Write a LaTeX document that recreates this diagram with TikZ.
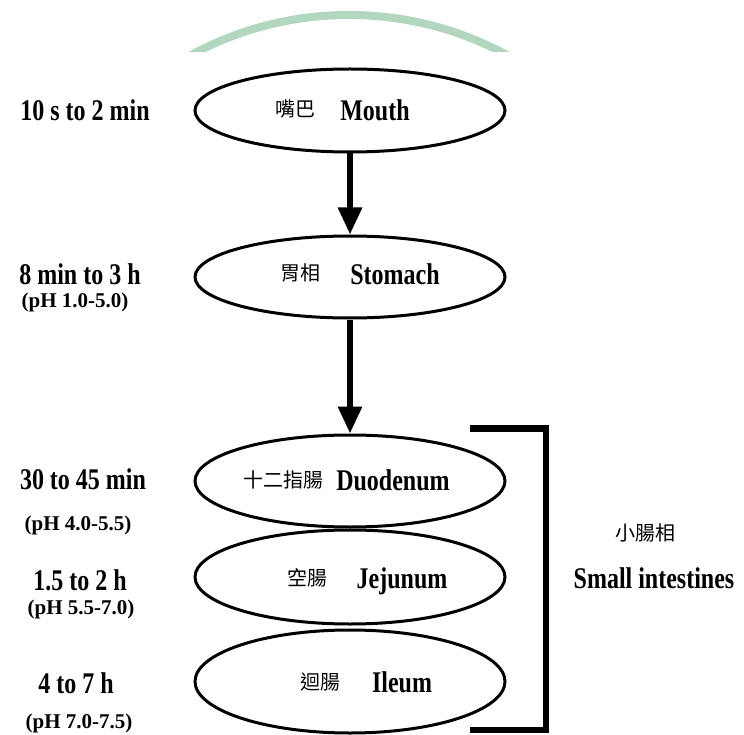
\documentclass[tikz,border=0pt]{standalone}
\usepackage{fontspec}
\setmainfont{Liberation Serif}
\newfontfamily\narrowserif{Liberation Serif}[FakeStretch=0.8]
\newfontfamily\cjk{Noto Sans CJK TC}
\usetikzlibrary{shapes.geometric, arrows.meta}

\definecolor{wmgreen}{RGB}{178,214,190}

\tikzset{
  stage/.style={ellipse, draw, line width=3pt, minimum width=310pt,
                minimum height=#1, inner sep=0pt},
  big/.style={font=\narrowserif\bfseries\fontsize{30}{32}\selectfont,
              inner sep=0pt, text height=20pt, text depth=0pt},
  ph/.style={font=\bfseries\fontsize{21}{23}\selectfont,
             inner sep=0pt, text height=14pt, text depth=0pt},
  zh/.style={font=\cjk\fontsize{20}{22}\selectfont,
             inner sep=0pt, text height=17pt, text depth=3pt},
  flow/.style={line width=6pt, -{Triangle[width=23pt, length=27pt]}},
  bracketline/.style={line width=6.5pt, line join=miter},
  seal/.style={draw=wmgreen, line width=8pt}
}

\begin{document}
\begin{tikzpicture}[x=1pt, y=-1pt]
  \fill[white] (0,0) rectangle (744,735);
  \useasboundingbox (0,0) rectangle (744,735);

  % faint seal arc along the top edge
  \begin{scope}
    \clip (0,0) rectangle (744,52);
    \draw[seal] (349,346) circle[radius=331pt];
  \end{scope}

  % stages of the digestive tract
  \node[stage=83pt]  (mouth)   at (350,110.5) {};
  \node[stage=82pt]  (stomach) at (350,277)   {};
  \node[stage=92pt]  (duo)     at (350,481)   {};
  \node[stage=94pt]  (jej)     at (350,577)   {};
  \node[stage=103pt] (ile)     at (350,681.5) {};

  % names inside the stages
  \node[zh]  (mouthzh) at (295,110) {嘴巴};
  \node[big] (mouthen) at (375,111) {Mouth};
  \node[zh]  (stomzh)  at (300,273) {胃相};
  \node[big] (stomen)  at (395,274) {Stomach};
  \node[zh]  (duozh)   at (283,480) {十二指腸};
  \node[big] (duoen)   at (393,480) {Duodenum};
  \node[zh]  (jejzh)   at (307,578) {空腸};
  \node[big] (jejen)   at (402,578) {Jejunum};
  \node[zh]  (ilezh)   at (320,682) {迴腸};
  \node[big] (ileen)   at (402,682) {Ileum};

  % transit times and pH ranges
  \node[big] (t1) at (85,111)  {10 s to 2 min};
  \node[big] (t2) at (80,275)  {8 min to 3 h};
  \node[ph]  (p2) at (75,301)  {(pH 1.0-5.0)};
  \node[big] (t3) at (83,479)  {30 to 45 min};
  \node[ph]  (p3) at (78,523)  {(pH 4.0-5.5)};
  \node[big] (t4) at (80,580)  {1.5 to 2 h};
  \node[ph]  (p4) at (81,607)  {(pH 5.5-7.0)};
  \node[big] (t5) at (76,683)  {4 to 7 h};
  \node[ph]  (p5) at (79,721)  {(pH 7.0-7.5)};

  % flow arrows
  \draw[flow] (mouth) -- (stomach);
  \draw[flow] (stomach) -- (duo);

  % bracket grouping the small intestine
  \coordinate (btl) at (470,428.5);
  \coordinate (btr) at (546,428.5);
  \coordinate (bbr) at (546,730);
  \coordinate (bbl) at (470,730);
  \draw[bracketline] (btl) -- (btr) -- (bbr) -- (bbl);

  \node[zh]  (sizh) at (645,533) {小腸相};
  \node[big] (sien) at (654,578) {Small intestines};
\end{tikzpicture}
\end{document}
